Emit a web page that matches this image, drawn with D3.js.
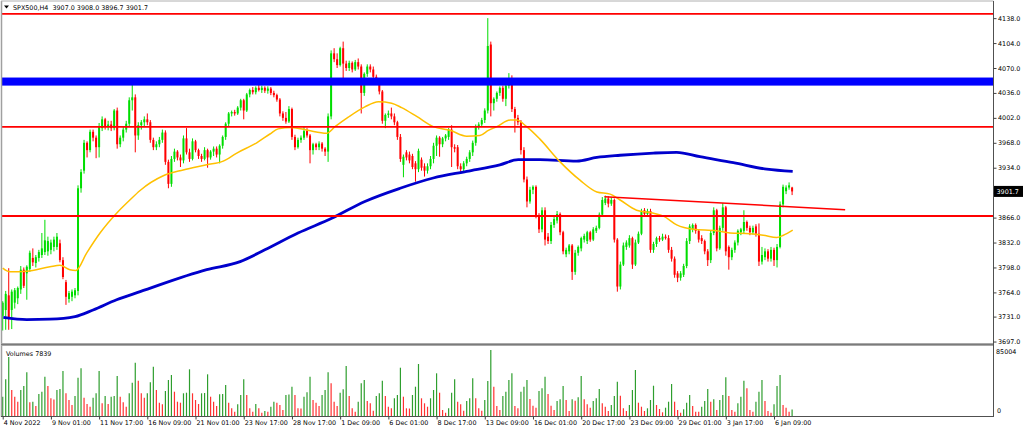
<!DOCTYPE html>
<html>
<head>
<meta charset="utf-8">
<script src="https://cdn.jsdelivr.net/npm/d3@7"></script>
<style>
  body { margin: 0; background: #fff; }
  svg { display: block; font-family: "DejaVu Sans", sans-serif; }
</style>
</head>
<body>
<svg width="1024" height="432"></svg>
<script>
// SPX500 H4 bars, 4 Nov 2022 .. 6 Jan 2023
const opens = [
  3732,3740,3760,3740,3750,3756,3768,3795,3790,3796,
  3811,3804,3811,3815,3819,3820,3822,3826,3826,3831,
  3808,3778,3755,3758,3760,3766,3906,3930,3968,3958,
  3983,3975,3962,3988,4000,3990,3993,3988,4012,3966,
  3975,3986,3994,4026,4030,3978,3992,3996,4000,3996,
  3972,3962,3966,3972,3982,3942,3912,3946,3956,3948,
  3944,3974,3955,3946,3970,3958,3950,3946,3958,3948,
  3956,3960,3952,3964,3976,3994,4008,4010,4008,4016,
  4026,4012,4034,4040,4037,4043,4040,4043,4039,4042,
  4036,4033,4027,4008,4002,3997,4014,3976,3962,3972,
  3975,3984,3978,3958,3966,3962,3967,3960,3956,4004,
  4090,4082,4074,4097,4076,4070,4077,4068,4078,4072,
  4036,4062,4072,4068,4058,4052,4038,3998,4006,4008,
  4004,3996,3976,3938,3955,3952,3950,3940,3932,3945,
  3936,3930,3936,3946,3964,3975,3966,3974,3976,3986,
  3962,3962,3936,3932,3940,3946,3955,3968,3990,3993,
  3999,4012,4102,4022,4028,4036,4043,4028,4046,4056,
  4014,4002,3996,3958,3918,3888,3904,3908,3868,3850,
  3876,3840,3834,3856,3862,3871,3846,3816,3820,3828,
  3792,3818,3824,3836,3834,3846,3836,3848,3852,3870,
  3886,3892,3885,3890,3836,3772,3802,3826,3828,3838,
  3802,3832,3844,3876,3871,3875,3822,3830,3838,3836,
  3840,3838,3822,3810,3790,3784,3788,3800,3834,3850,
  3856,3848,3838,3834,3820,3808,3845,3876,3824,3852,
  3880,3826,3812,3822,3832,3846,3848,3860,3852,3846,
  3854,3844,3806,3812,3820,3810,3822,3808,3826,3884,
  3902,3907,3907
];
const highs = [
  3752,3766,3797,3768,3770,3772,3800,3798,3801,3821,
  3824,3815,3822,3845,3863,3840,3836,3840,3845,3836,
  3812,3781,3766,3768,3770,3910,3932,3972,3970,3986,
  3986,3978,3995,4004,4002,3998,3998,4014,4016,3978,
  3990,3998,4030,4048,4034,3996,3999,4004,4008,3999,
  3975,3970,3976,3986,3985,3945,3950,3960,3958,3952,
  3978,3988,3960,3974,3972,3960,3953,3962,3960,3958,
  3963,3963,3966,3978,3996,4010,4012,4013,4018,4028,
  4028,4036,4042,4044,4045,4050,4046,4045,4045,4044,
  4039,4035,4029,4011,4010,4018,4016,3979,3975,3978,
  3990,3988,3980,3968,3968,3970,3969,3962,4008,4094,
  4097,4090,4099,4106,4080,4080,4079,4081,4083,4075,
  4064,4075,4075,4072,4061,4055,4040,4008,4012,4016,
  4008,3998,3980,3952,3958,3956,3953,3943,3960,3948,
  3940,3940,3950,3968,3978,3977,3976,3980,3988,3992,
  3966,3965,3940,3943,3949,3958,3971,3993,3996,4002,
  4015,4138,4106,4030,4038,4045,4046,4049,4063,4060,
  4017,4006,3999,3962,3922,3908,3910,3910,3872,3880,
  3880,3845,3860,3867,3875,3873,3848,3825,3830,3830,
  3822,3828,3840,3844,3848,3848,3853,3855,3873,3894,
  3896,3895,3894,3892,3838,3806,3832,3835,3842,3840,
  3836,3847,3878,3879,3878,3878,3833,3840,3841,3844,
  3843,3842,3826,3813,3793,3793,3803,3838,3857,3858,
  3858,3850,3842,3836,3823,3848,3880,3878,3855,3886,
  3882,3828,3825,3835,3850,3852,3876,3862,3855,3855,
  3857,3858,3826,3824,3823,3826,3825,3830,3888,3911,
  3910,3914,3908
];
const lows = [
  3712,3713,3713,3714,3742,3748,3762,3770,3754,3792,
  3800,3798,3806,3811,3815,3814,3816,3820,3822,3805,
  3782,3747,3750,3752,3756,3760,3900,3926,3948,3955,
  3970,3947,3948,3984,3986,3985,3984,3985,3960,3962,
  3970,3982,3990,4012,3955,3972,3986,3990,3992,3968,
  3958,3958,3962,3968,3938,3906,3908,3942,3944,3935,
  3940,3952,3942,3944,3955,3946,3942,3944,3934,3945,
  3950,3948,3940,3960,3972,3990,4004,4005,4006,4012,
  4000,4010,4030,4034,4034,4038,4036,4036,4035,4033,
  4030,4024,4004,3998,3994,3995,3972,3958,3960,3968,
  3972,3975,3940,3952,3958,3958,3956,3950,3942,4000,
  4078,4070,4072,4052,4066,4066,4064,4066,4068,4008,
  4032,4058,4064,4054,4048,4034,3994,3988,4002,4000,
  3992,3972,3942,3921,3944,3940,3932,3915,3928,3930,
  3922,3926,3932,3940,3950,3949,3962,3970,3972,3935,
  3955,3932,3926,3928,3936,3942,3950,3964,3986,3990,
  3995,4008,4004,4012,4024,4032,4024,4018,4042,4010,
  3982,3992,3952,3914,3880,3885,3898,3865,3845,3846,
  3828,3830,3830,3852,3858,3842,3816,3812,3816,3781,
  3788,3814,3820,3832,3830,3833,3834,3845,3850,3867,
  3883,3880,3882,3832,3765,3768,3800,3822,3825,3796,
  3800,3830,3842,3868,3868,3818,3818,3826,3833,3834,
  3836,3818,3806,3784,3778,3780,3785,3797,3830,3846,
  3844,3832,3830,3816,3800,3804,3842,3820,3822,3848,
  3814,3795,3808,3818,3828,3842,3845,3848,3842,3843,
  3840,3800,3802,3808,3806,3806,3800,3798,3824,3880,
  3898,3904,3896.7
];
const closes = [
  3750,3762,3730,3765,3767,3770,3795,3773,3799,3818,
  3805,3812,3819,3824,3835,3834,3832,3836,3840,3808,
  3785,3758,3763,3765,3767,3906,3928,3968,3958,3983,
  3975,3962,3990,4000,3990,3993,3988,4012,3966,3975,
  3986,3994,4026,4030,3978,3992,3996,4000,3996,3972,
  3962,3966,3972,3982,3942,3912,3946,3956,3948,3944,
  3974,3955,3946,3970,3958,3950,3946,3958,3948,3956,
  3960,3952,3964,3976,3994,4008,4010,4008,4016,4026,
  4012,4034,4040,4037,4043,4040,4043,4039,4042,4036,
  4033,4027,4008,4002,3997,4014,3976,3962,3972,3975,
  3984,3978,3958,3966,3962,3967,3960,3956,4004,4090,
  4082,4074,4097,4076,4070,4077,4068,4078,4072,4036,
  4062,4072,4068,4058,4052,4038,3998,4006,4008,4004,
  3996,3976,3946,3949,3948,3944,3935,3932,3957,3934,
  3930,3936,3946,3964,3975,3966,3974,3978,3986,3962,
  3960,3936,3932,3940,3946,3955,3968,3990,3993,3999,
  4012,4100,4022,4028,4036,4043,4028,4046,4056,4014,
  4002,3996,3958,3918,3888,3904,3908,3868,3850,3876,
  3836,3834,3856,3864,3871,3846,3820,3822,3828,3792,
  3818,3826,3838,3841,3846,3836,3850,3852,3870,3890,
  3892,3885,3890,3836,3772,3802,3828,3832,3838,3802,
  3832,3844,3875,3871,3875,3822,3830,3838,3836,3840,
  3838,3822,3810,3788,3784,3790,3800,3834,3854,3856,
  3848,3836,3834,3820,3808,3845,3876,3824,3852,3880,
  3820,3812,3822,3832,3848,3850,3860,3852,3846,3852,
  3844,3806,3815,3820,3810,3822,3808,3826,3884,3908,
  3907,3910,3901.7
];
const volumes = [
  23430,44550,71630,31560,23430,17360,31560,36420,53050,16630,
  17360,12140,26710,29500,47710,36420,21490,20030,31560,32780,
  54630,27560,19420,13350,24280,46500,57910,22220,14570,11290,
  22220,27560,54630,15420,24280,14570,23430,24280,48560,23430,
  16630,11290,27560,40430,64710,42850,27560,22220,27560,40910,
  59850,31560,16150,14200,30350,43700,49770,29500,17360,16150,
  27560,28290,56690,27560,19420,14570,27560,27920,50620,23430,
  17360,12140,26340,26710,37630,16150,9350,5220,14200,25490,
  44550,25490,9350,5220,14570,9350,4010,6070,5220,11290,
  17360,16150,13350,7280,25490,26100,35570,25490,9350,9100,
  23430,28770,47710,19420,16150,12140,25490,31560,53050,39700,
  17360,12140,28290,32410,60700,24280,9350,5220,17360,39700,
  43700,18210,15420,6430,24280,27560,42850,24280,11290,9350,
  21490,25490,58640,23430,9350,9100,25490,35570,63130,21490,
  15420,11290,21490,31560,51840,28290,7280,4010,9350,28290,
  44550,17360,14200,6430,18210,21490,45770,21490,9350,6430,
  19420,42490,80120,35570,12140,7280,24280,29500,43700,51840,
  12140,9350,29500,35570,43700,20640,12500,10080,30350,33630,
  47710,26710,12500,7280,18210,20270,36420,19420,6070,20270,
  18570,22700,48560,20270,14200,10080,18210,21490,32780,15420,
  11290,6070,13350,24280,41640,24640,9350,6070,13350,31560,
  55840,16150,11290,6070,9350,19420,36780,13350,8500,4490,
  10080,17360,38850,17360,7280,4010,8130,16150,25490,12140,
  5220,5100,11290,18210,32780,17360,20270,7280,19420,25490,
  46980,24280,7280,5220,15420,23430,42850,33630,7280,5220,
  17360,29500,43700,18210,6070,4010,14200,36420,49770,13350,
  10080,5220,7839
];

// moving averages read at points along the lines: [bar, value]
const fastMA = [
  [0,3797],[2.4,3792],[8,3793],[15.7,3799],[19,3801],[22.3,3795],[24.3,3794],
  [27.9,3818],[32.3,3845],[37.8,3872],[42.2,3890],[45.6,3903],[53.3,3923],
  [59.9,3931],[67.7,3938],[73.2,3943],[77.7,3954],[84.3,3968],[88.7,3980],
  [91.4,3987],[95.9,3989],[101.3,3985],[107.5,3981],[110.3,3990],[114.7,4003],
  [120.2,4017],[124.7,4024],[129.1,4022],[132.4,4016],[137.4,4004],[142.9,3990],
  [148.5,3985],[154,3977],[158.4,3978],[161.2,3985],[164,3990],[168.4,3999],
  [170.6,3999],[173.9,3990],[178.3,3973],[185,3942],[191.6,3917],[197.2,3901],
  [201.6,3898],[204.9,3890],[210.4,3876],[216,3872],[219.3,3868],[223.7,3856],
  [229.2,3850],[236.9,3848],[241.4,3845],[248,3844],[252.4,3842],[256.9,3839],
  [259.1,3842],[262.2,3849]
];
const slowMA = [
  [0.2,3730],[8,3727],[15.7,3727.5],[24,3731],[30,3740],[37.8,3754],[45.6,3765],
  [67.7,3795],[78.8,3806],[87,3822],[98,3845],[109.2,3865],[120.2,3888],
  [131.9,3906],[142.9,3920],[154,3929],[165,3938],[171.1,3945],[178.3,3945],
  [190.5,3943],[197.2,3948],[204.9,3951],[216,3954],[223.7,3955],[231.4,3949],
  [242.5,3941],[253.6,3932],[262.2,3929]
];

// drawn objects
const redLevels = [4143.7, 3989.6, 3868.2];
const blueZone = [4046, 4057];
const trendLine = [[199.7, 3894.5], [279.6, 3876.8]];

// axis labels
const priceTicks = [4138, 4104, 4070, 4036, 4002, 3968, 3934, 3900, 3866, 3832, 3798, 3764, 3731, 3697];
const timeTickBars = [0,16,32,48,64,80,96,112,128,144,160,176,192,208,224,240,256];
const timeLabels = ["4 Nov 2022","9 Nov 01:00","11 Nov 17:00","16 Nov 09:00","21 Nov 01:00",
  "23 Nov 17:00","28 Nov 17:00","1 Dec 09:00","6 Dec 01:00","8 Dec 17:00","13 Dec 09:00",
  "16 Dec 01:00","20 Dec 17:00","23 Dec 09:00","29 Dec 01:00","3 Jan 17:00","6 Jan 09:00"];
const volMax = 85004;

const svg = d3.select("svg");
const fs = 6.4;
const axisX = 993.5;
const last = closes.length - 1;

const x = d3.scaleLinear().domain([0, 262]).range([2.7, 792.1]);
const y = d3.scaleLinear().domain([3695, 4160]).range([343, 2]);
const yv = d3.scaleLinear().domain([0, volMax]).range([416, 346]);

const bull = "#00dd00", bear = "#ff0000";
const idx = d3.range(closes.length);

// candles
const candles = svg.append("g");
candles.selectAll("line").data(idx).join("line")
  .attr("x1", i => x(i)).attr("x2", i => x(i))
  .attr("y1", i => y(highs[i])).attr("y2", i => y(lows[i]))
  .attr("stroke", i => closes[i] >= opens[i] ? bull : bear)
  .attr("stroke-width", 1);
candles.selectAll("rect").data(idx).join("rect")
  .attr("x", i => x(i) - 1).attr("width", 2)
  .attr("y", i => y(Math.max(opens[i], closes[i])))
  .attr("height", i => Math.max(1, Math.abs(y(opens[i]) - y(closes[i]))))
  .attr("fill", i => closes[i] >= opens[i] ? bull : bear);

// moving averages
const maLine = d3.line().x(d => x(d[0])).y(d => y(d[1])).curve(d3.curveMonotoneX);
svg.append("path").attr("d", maLine(slowMA)).attr("fill", "none")
  .attr("stroke", "#0000cc").attr("stroke-width", 2.8);
svg.append("path").attr("d", maLine(fastMA)).attr("fill", "none")
  .attr("stroke", "#ffc000").attr("stroke-width", 1.5);

// objects
svg.append("rect").attr("x", 2).attr("width", axisX - 2)
  .attr("y", y(blueZone[1])).attr("height", y(blueZone[0]) - y(blueZone[1]))
  .attr("fill", "#0000ff");
svg.selectAll(".lvl").data(redLevels).join("line").attr("class", "lvl")
  .attr("x1", 2).attr("x2", axisX).attr("y1", d => y(d)).attr("y2", d => y(d))
  .attr("stroke", "#ff0000").attr("stroke-width", 1.8);
svg.append("line")
  .attr("x1", x(trendLine[0][0])).attr("y1", y(trendLine[0][1]))
  .attr("x2", x(trendLine[1][0])).attr("y2", y(trendLine[1][1]))
  .attr("stroke", "#ff0000").attr("stroke-width", 1.4);

// volumes
svg.append("g").selectAll("line").data(idx).join("line")
  .attr("x1", i => x(i)).attr("x2", i => x(i))
  .attr("y1", yv(0)).attr("y2", i => yv(volumes[i]))
  .attr("stroke", i => (i === 0 || volumes[i] > volumes[i - 1]) ? "#2e9e2e" : "#ff3030")
  .attr("stroke-width", 1.2);

// frame
svg.append("line").attr("x1", 1.5).attr("x2", 1.5).attr("y1", 1).attr("y2", 417).attr("stroke", "#a0a0a0").attr("stroke-width", 1.5);
svg.append("line").attr("x1", 1).attr("x2", axisX).attr("y1", 1).attr("y2", 1).attr("stroke", "#b0b0b0");
svg.append("rect").attr("x", 1).attr("y", 343).attr("width", axisX - 1).attr("height", 3).attr("fill", "#a8a8a8");
svg.append("line").attr("x1", 1).attr("x2", axisX).attr("y1", 344.5).attr("y2", 344.5).attr("stroke", "#707070").attr("stroke-width", 0.8);
svg.append("line").attr("x1", 1).attr("x2", axisX).attr("y1", 416.5).attr("y2", 416.5).attr("stroke", "#505050");
svg.append("line").attr("x1", axisX).attr("x2", axisX).attr("y1", 1).attr("y2", 417).attr("stroke", "#505050");

// price axis
const pAxis = svg.append("g").attr("transform", `translate(${axisX},0)`)
  .call(d3.axisRight(y).tickValues(priceTicks).tickSize(3).tickPadding(1.5)
    .tickFormat(d => d.toFixed(1)));
pAxis.select(".domain").remove();
pAxis.selectAll("text").attr("font-size", fs).attr("font-family", "DejaVu Sans").attr("fill", "#000");
pAxis.selectAll("line").attr("stroke", "#404040");

// last price tag
const py = y(closes[last]);
svg.append("rect").attr("x", 994).attr("y", py - 5.5).attr("width", 29).attr("height", 11).attr("fill", "#000");
svg.append("text").attr("x", 996.5).attr("y", py + 2.3).attr("font-size", fs).attr("fill", "#fff")
  .text(closes[last].toFixed(1));

// volume scale labels
svg.append("text").attr("x", 996).attr("y", yv(volMax) + 7.5).attr("font-size", fs).text(volMax);
svg.append("text").attr("x", 997).attr("y", yv(0) - 3).attr("font-size", fs).text("0");

// time axis
const tAxis = svg.append("g").attr("transform", "translate(0,416.5)")
  .call(d3.axisBottom(x).tickValues(timeTickBars).tickSize(3).tickPadding(2)
    .tickFormat((d, k) => timeLabels[k]));
tAxis.select(".domain").remove();
tAxis.selectAll("line").attr("stroke", "#404040");
tAxis.selectAll("text").attr("font-size", fs).attr("font-family", "DejaVu Sans").attr("fill", "#000")
  .attr("text-anchor", "start").attr("dx", "0.5").attr("dy", "0.55em");

// header and panel captions
svg.append("path").attr("d", "M4,5.5 L9,5.5 L6.5,8.5 Z").attr("fill", "#000");
svg.append("text").attr("x", 13).attr("y", 9.8).attr("font-size", fs).style("white-space", "pre")
  .text(`SPX500,H4  ${opens[last].toFixed(1)} ${highs[last].toFixed(1)} ${lows[last].toFixed(1)} ${closes[last].toFixed(1)}`);
svg.append("text").attr("x", 6).attr("y", 355.5).attr("font-size", fs)
  .text(`Volumes ${volumes[last]}`);
</script>
</body>
</html>
